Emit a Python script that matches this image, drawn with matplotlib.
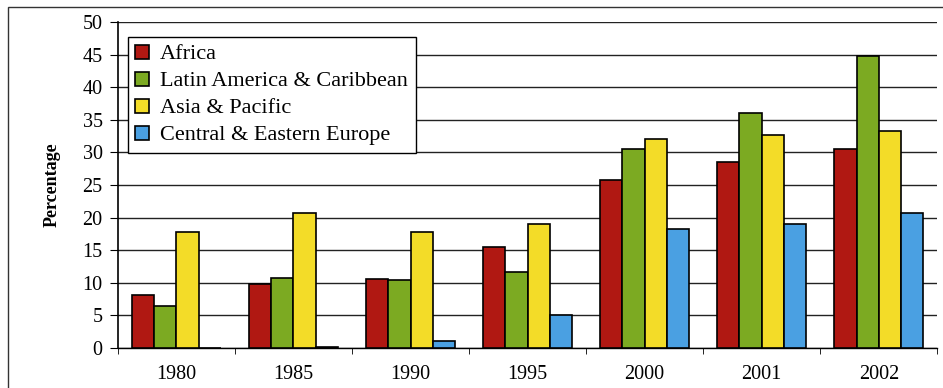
import matplotlib.pyplot as plt
import numpy as np
from matplotlib.patches import Rectangle

# data
years = ["1980", "1985", "1990", "1995", "2000", "2001", "2002"]
africa = [8.1, 9.8, 10.6, 15.5, 25.8, 28.5, 30.6]
latin_america = [6.4, 10.7, 10.4, 11.7, 30.5, 36.0, 44.8]
asia_pacific = [17.8, 20.7, 17.8, 19.0, 32.1, 32.7, 33.3]
ce_europe = [0.0, 0.1, 1.1, 5.1, 18.2, 19.1, 20.7]

series = [
    ("Africa", africa, "#b01812"),
    ("Latin America & Caribbean", latin_america, "#7caa22"),
    ("Asia & Pacific", asia_pacific, "#f3dc28"),
    ("Central & Eastern Europe", ce_europe, "#4aa0e2"),
]

plt.rcParams["font.family"] = ["Liberation Serif", "DejaVu Serif"]

fig = plt.figure(figsize=(9.43, 3.88), dpi=100)
ax = fig.add_axes([0.125, 0.103, 0.869, 0.840])

x = np.arange(len(years))
w = 0.19
for i, (name, vals, col) in enumerate(series):
    ax.bar(x + (i - 1.5) * w, vals, w, color=col, edgecolor="black",
           linewidth=1.2, label=name, zorder=3)

ax.set_xlim(-0.5, len(years) - 0.5)
ax.set_ylim(0, 50)
ax.set_yticks(range(0, 51, 5))
ax.set_xticks(x)
ax.set_xticklabels(years, fontsize=14.5)
ax.set_xticks(np.arange(-0.5, len(years), 1), minor=True)
ax.tick_params(axis="x", which="major", length=0, pad=12)
ax.tick_params(axis="x", which="minor", length=4, direction="out")
ax.tick_params(axis="y", labelsize=14.5, length=6, direction="out", pad=5)
ax.yaxis.grid(True, color="#222222", linewidth=1.0, zorder=0)
for s in ["top", "right"]:
    ax.spines[s].set_visible(False)
ax.spines["left"].set_linewidth(1.2)
ax.spines["bottom"].set_linewidth(1.0)

ax.set_ylabel("Percentage", fontsize=13, fontweight="bold", labelpad=16)

leg = ax.legend(loc="upper left", bbox_to_anchor=(0.012, 0.955), fontsize=16,
                frameon=True, fancybox=False, edgecolor="black",
                handlelength=0.6, handleheight=0.6, handletextpad=0.5,
                labelspacing=0.32, borderpad=0.35, borderaxespad=0)
leg.get_frame().set_linewidth(1.0)
leg.get_frame().set_alpha(1)

# outer chart frame
fig.patches.append(Rectangle((8 / 943, -0.05), 1.0, 1 - 7 / 388 + 0.05,
                             transform=fig.transFigure, fill=False,
                             edgecolor="#333333", linewidth=1.0))

fig.savefig("out.png", dpi=100)
